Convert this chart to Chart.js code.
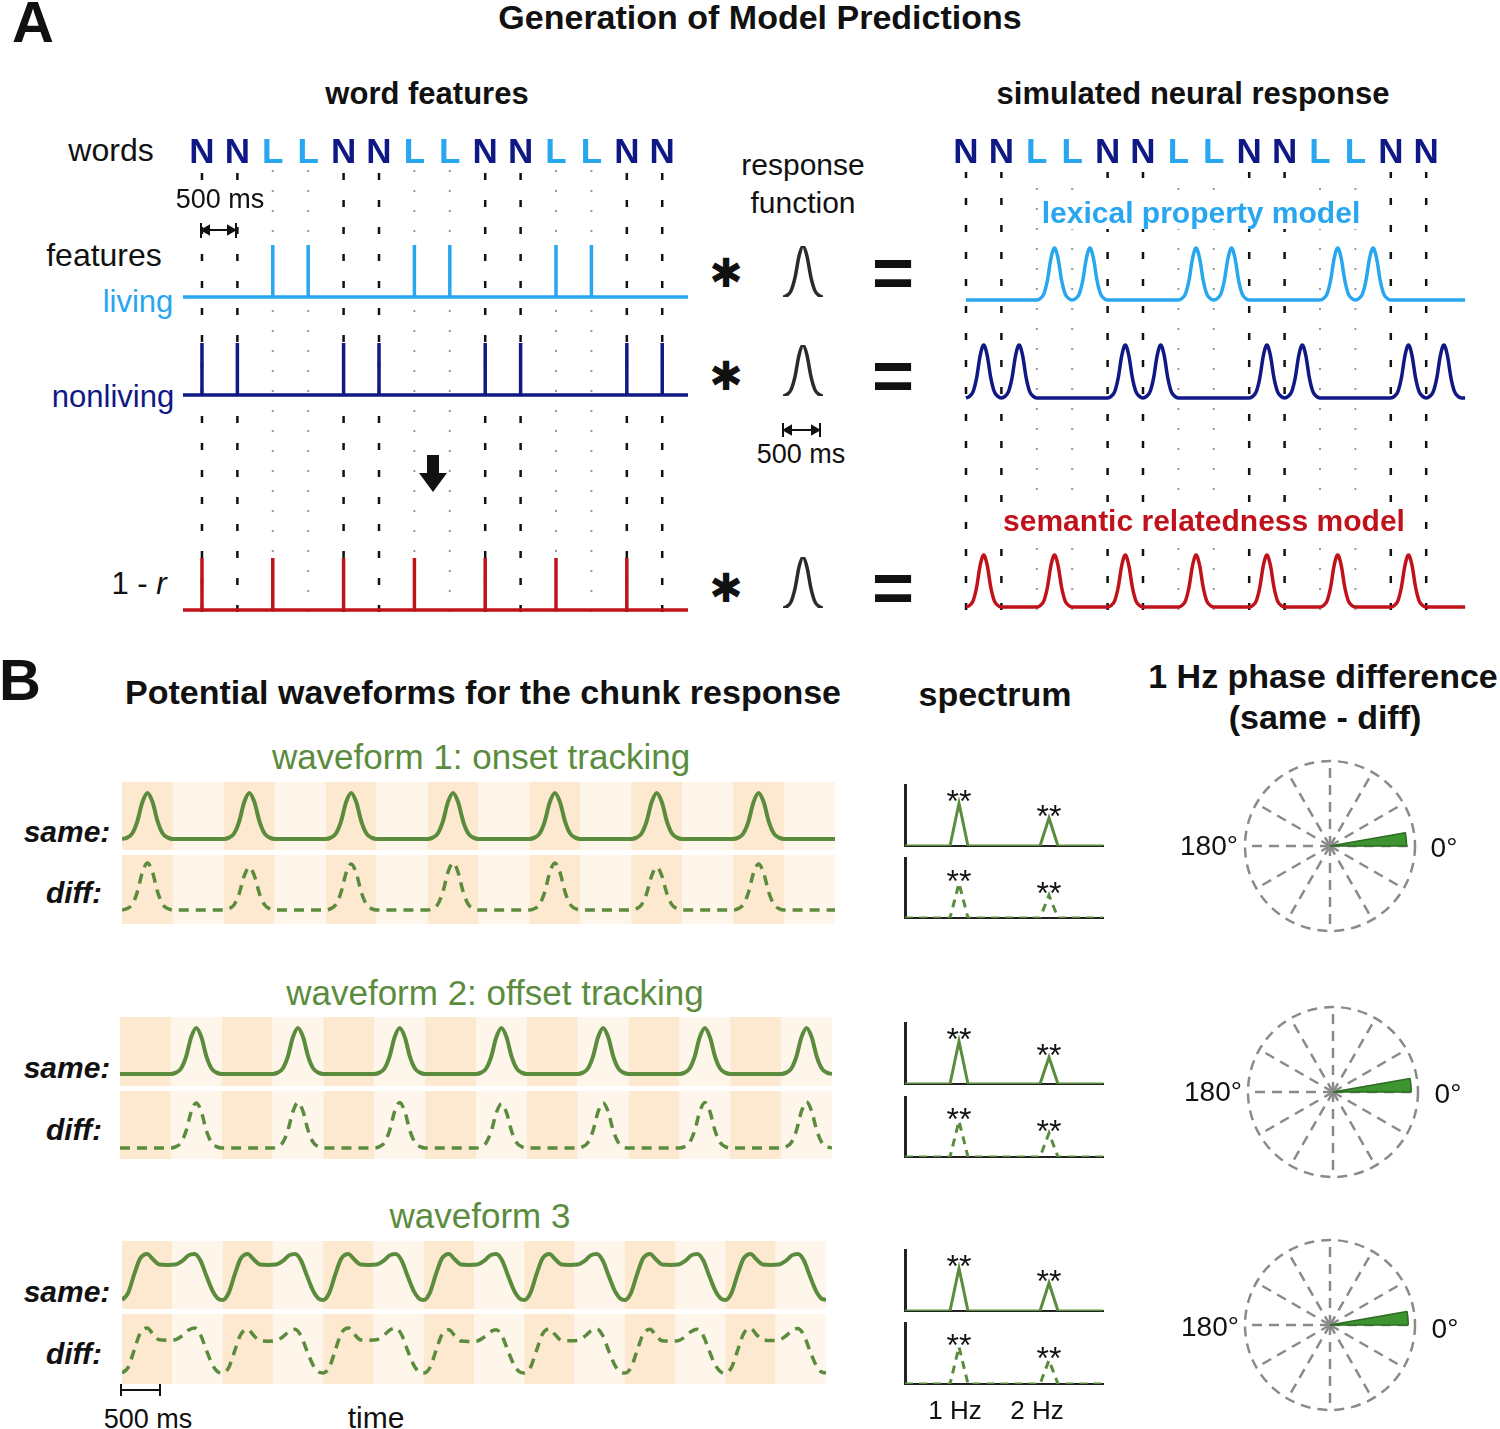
<!DOCTYPE html>
<html>
<head>
<meta charset="utf-8">
<script src="https://cdn.jsdelivr.net/npm/chart.js@4.4.1/dist/chart.umd.min.js"></script>
<style>
  html, body { margin: 0; padding: 0; background: #fff; }
  #fig { position: relative; width: 1500px; height: 1429px; overflow: hidden;
         font-family: "Liberation Sans", Arial, sans-serif; color: #111; }
  #fig canvas { position: absolute; }
  .t { position: absolute; transform: translate(-50%, -50%); white-space: nowrap; line-height: 1; }
  svg { position: absolute; left: 0; top: 0; }
</style>
</head>
<body>
<div id="fig"></div>
<script>
// ---------- data ----------
// panel A: word sequence, one word every 500 ms
const words = ['N','N','L','L','N','N','L','L','N','N','L','L','N','N'];
const wordOnsets = [0, 0.5, 1, 1.5, 2, 2.5, 3, 3.5, 4, 4.5, 5, 5.5, 6, 6.5];
// 1 - r between the words of a chunk (one spike per chunk onset)
const chunkOnsets = [0, 1, 2, 3, 4, 5, 6];
const relatedness = [1, 1, 1, 1, 1, 1, 1];

// response function (lag in s, amplitude)
const kernelLag = [0, 0.05, 0.1, 0.15, 0.2, 0.25, 0.3, 0.35, 0.4, 0.45, 0.5];
const kernelAmp = [0, 0.03, 0.12, 0.38, 0.8, 1, 0.8, 0.38, 0.12, 0.03, 0];

// panel B: position of each 500 ms slot inside its 2-word chunk
const chunkPos = [1, 2, 1, 2, 1, 2, 1, 2, 1, 2, 1, 2, 1, 2];
const slotDur = 0.5;

// waveform 1 (onset tracking)
const w1Onsets = [0, 1, 2, 3, 4, 5, 6];
const w1SameAmp = [1, 1, 1, 1, 1, 1, 1];
const w1DiffAmp = [1.0, 0.91, 0.98, 1.0, 1.0, 0.91, 0.98];
// waveform 2 (offset tracking)
const w2Onsets = [0.5, 1.5, 2.5, 3.5, 4.5, 5.5, 6.5];
const w2SameAmp = [1, 1, 1, 1, 1, 1, 1];
const w2DiffAmp = [0.98, 0.99, 0.99, 0.96, 0.98, 0.99, 1.0];
// waveform 3, one 1 s cycle
const w3CycleT = [0, 0.06, 0.12, 0.18, 0.25, 0.31, 0.37, 0.45, 0.53, 0.6, 0.66, 0.72, 0.78, 0.84, 0.9, 0.95, 1.0];
const w3SameCycle = [0, 0.15, 0.55, 0.9, 1, 0.88, 0.77, 0.76, 0.77, 0.85, 0.97, 1, 0.86, 0.52, 0.2, 0.04, 0];
const w3DiffCycle = [0, 0.12, 0.5, 0.88, 1, 0.86, 0.74, 0.73, 0.74, 0.83, 0.95, 1, 0.85, 0.5, 0.18, 0.03, 0];
const w3DiffScale = [1.0, 0.97, 1.0, 0.96, 0.98, 0.97, 0.99];

// spectra (frequency bins in Hz)
const specFreq = [0.4, 0.5, 0.6, 0.7, 0.8, 0.9, 1.0, 1.1, 1.2, 1.3, 1.4, 1.5, 1.6, 1.7, 1.8, 1.9, 2.0, 2.1, 2.2, 2.3, 2.4, 2.5, 2.6];
const spec1Same = [0,0,0,0,0,0,0.70,0,0,0,0,0,0,0,0,0,0.46,0,0,0,0,0,0];
const spec1Diff = [0,0,0,0,0,0,0.58,0,0,0,0,0,0,0,0,0,0.38,0,0,0,0,0,0];
const spec2Same = [0,0,0,0,0,0,0.70,0,0,0,0,0,0,0,0,0,0.44,0,0,0,0,0,0];
const spec2Diff = [0,0,0,0,0,0,0.60,0,0,0,0,0,0,0,0,0,0.40,0,0,0,0,0,0];
const spec3Same = [0,0,0,0,0,0,0.70,0,0,0,0,0,0,0,0,0,0.46,0,0,0,0,0,0];
const spec3Diff = [0,0,0,0,0,0,0.61,0,0,0,0,0,0,0,0,0,0.39,0,0,0,0,0,0];
const specStars = [1.0, 2.0];

// 1 Hz phase difference (same - diff): angle in degrees, resultant length
const phaseDeg = [5, 5, 5];
const phaseLen = [0.9, 0.92, 0.92];

// ---------- style ----------
const NAVY = '#0f1884';
const LIGHT = '#28a6ef';
const RED = '#c0121b';
const GREEN = '#5b8c3d';
const GRID = '#8a8a8a';
const FONT = '"Liberation Sans", Arial, sans-serif';

Chart.defaults.animation = false;
Chart.defaults.responsive = false;
Chart.defaults.devicePixelRatio = 1;
Chart.defaults.plugins.legend.display = false;
Chart.defaults.plugins.tooltip.enabled = false;
Chart.defaults.elements.point.radius = 0;

const fig = document.getElementById('fig');

function makeCanvas(left, top, w, h) {
  const c = document.createElement('canvas');
  c.width = w;
  c.height = h;
  c.style.left = left + 'px';
  c.style.top = top + 'px';
  fig.appendChild(c);
  return c.getContext('2d');
}

function text(str, x, y, size, opts = {}) {
  const d = document.createElement('div');
  d.className = 't';
  d.innerHTML = str;
  d.style.left = x + 'px';
  d.style.top = y + 'px';
  d.style.fontSize = size + 'px';
  if (opts.bold) d.style.fontWeight = 'bold';
  if (opts.italic) d.style.fontStyle = 'italic';
  if (opts.color) d.style.color = opts.color;
  if (opts.family) d.style.fontFamily = opts.family;
  if (opts.bg) { d.style.background = '#fff'; d.style.padding = '1px 3px'; }
  fig.appendChild(d);
}

// y scale that puts value 0 at page pixel `base` and 1 at `peak`, for a chart area spanning areaTop..areaBottom
function rowScale(base, peak, areaTop, areaBottom) {
  const u = base - peak;
  return { type: 'linear', display: false, min: -(areaBottom - base) / u, max: (base - areaTop) / u };
}

// spike train: vertical stick of given height at each time
function spikeTrace(times, heights, t0, t1) {
  const pts = [{ x: t0, y: 0 }];
  times.forEach((t, i) => pts.push({ x: t, y: 0 }, { x: t, y: heights[i] }, { x: t, y: 0 }));
  pts.push({ x: t1, y: 0 });
  return pts;
}

// place the response function at each onset
function pushPoint(pts, x, y) {
  const last = pts[pts.length - 1];
  if (last && Math.abs(last.x - x) < 1e-9) { last.y = Math.max(last.y, y); return; }
  pts.push({ x, y });
}
function responseTrace(onsets, amps, t0, t1) {
  const pts = [];
  pushPoint(pts, t0, 0);
  onsets.forEach((t, i) => kernelLag.forEach((l, j) => pushPoint(pts, t + l, amps[i] * kernelAmp[j])));
  pushPoint(pts, t1, 0);
  return pts;
}
function cycleTrace(cycleT, cycleAmp, scales) {
  const pts = [];
  scales.forEach((s, k) => cycleT.forEach((t, j) => pushPoint(pts, k + t, s * cycleAmp[j])));
  return pts;
}

// ---------- plugins ----------
const wordLetters = {
  id: 'wordLetters',
  afterDraw(chart, args, opts) {
    const { ctx, scales: { x } } = chart;
    ctx.save();
    ctx.font = 'bold 35px ' + FONT;
    ctx.textAlign = 'center';
    ctx.textBaseline = 'alphabetic';
    words.forEach((w, i) => {
      ctx.fillStyle = w === 'N' ? NAVY : LIGHT;
      ctx.fillText(w, x.getPixelForValue(wordOnsets[i]), opts.baseline);
    });
    ctx.restore();
  }
};

const stripes = {
  id: 'stripes',
  beforeDatasetsDraw(chart) {
    const { ctx, chartArea: { top, bottom }, scales: { x } } = chart;
    ctx.save();
    wordOnsets.forEach((t, i) => {
      const x0 = x.getPixelForValue(t);
      const x1 = x.getPixelForValue(t + slotDur);
      ctx.fillStyle = chunkPos[i] === 1 ? '#fde9d0' : '#fef5eb';
      ctx.fillRect(x0, top, x1 - x0, bottom - top);
    });
    ctx.restore();
  }
};

const stars = {
  id: 'stars',
  afterDatasetsDraw(chart, args, opts) {
    const { ctx, scales: { x, y } } = chart;
    const data = chart.data.datasets[0].data;
    ctx.save();
    ctx.font = '32px ' + FONT;
    ctx.fillStyle = '#111';
    ctx.textAlign = 'center';
    ctx.textBaseline = 'alphabetic';
    specStars.forEach(f => {
      const p = data.find(d => Math.abs(d.x - f) < 1e-6);
      ctx.fillText('**', x.getPixelForValue(f), y.getPixelForValue(p.y) + 9);
    });
    ctx.restore();
  }
};

// ---------- panel A ----------
function guideSets(axisId) {
  return words.map((w, i) => ({
    data: [{ x: wordOnsets[i], y: 0 }, { x: wordOnsets[i], y: 1 }],
    yAxisID: axisId,
    borderColor: w === 'N' ? '#111' : '#9a9a9a',
    borderWidth: w === 'N' ? 2.5 : 2,
    borderDash: w === 'N' ? [7, 20] : [2, 18],
    order: 2
  }));
}

// left: word features
const leftSpan = [-0.268, 6.864];
const livingT = wordOnsets.filter((t, i) => words[i] === 'L');
const nonlivingT = wordOnsets.filter((t, i) => words[i] === 'N');
new Chart(makeCanvas(183, 125, 505, 495), {
  type: 'line',
  data: {
    datasets: [
      { data: spikeTrace(livingT, livingT.map(() => 1), leftSpan[0], leftSpan[1]), yAxisID: 'yLiv',
        borderColor: LIGHT, borderWidth: 3.5, order: 1 },
      { data: spikeTrace(nonlivingT, nonlivingT.map(() => 1), leftSpan[0], leftSpan[1]), yAxisID: 'yNon',
        borderColor: NAVY, borderWidth: 3.5, order: 1 },
      { data: spikeTrace(chunkOnsets, relatedness, leftSpan[0], leftSpan[1]), yAxisID: 'yRel',
        borderColor: RED, borderWidth: 3.5, order: 1 },
      ...guideSets('yGuide')
    ]
  },
  options: {
    layout: { padding: { top: 40 } },
    elements: { line: { tension: 0, borderCapStyle: 'butt' } },
    scales: {
      x: { type: 'linear', display: false, min: leftSpan[0], max: leftSpan[1] },
      yLiv: rowScale(297, 245, 165, 620),
      yNon: rowScale(395, 343, 165, 620),
      yRel: rowScale(610, 558, 165, 620),
      yGuide: rowScale(612, 168, 165, 620)
    },
    plugins: { wordLetters: { baseline: 38 } }
  },
  plugins: [wordLetters]
});

// right: simulated neural response
const rightEnd = 7.05;
new Chart(makeCanvas(950, 125, 530, 495), {
  type: 'line',
  data: {
    datasets: [
      { data: responseTrace(livingT, livingT.map(() => 1), 0, rightEnd), yAxisID: 'yLex',
        borderColor: LIGHT, borderWidth: 3.5, cubicInterpolationMode: 'monotone', order: 1 },
      { data: responseTrace(nonlivingT, nonlivingT.map(() => 1), 0, rightEnd), yAxisID: 'yNon',
        borderColor: NAVY, borderWidth: 3.5, cubicInterpolationMode: 'monotone', order: 1 },
      { data: responseTrace(chunkOnsets, relatedness, 0, rightEnd), yAxisID: 'ySem',
        borderColor: RED, borderWidth: 3.5, cubicInterpolationMode: 'monotone', order: 1 },
      ...guideSets('yGuide')
    ]
  },
  options: {
    layout: { padding: { top: 40 } },
    scales: {
      x: { type: 'linear', display: false, min: -0.226, max: 7.26 },
      yLex: rowScale(300, 248, 165, 620),
      yNon: rowScale(398, 345, 165, 620),
      ySem: rowScale(607, 555, 165, 620),
      yGuide: rowScale(610, 172, 165, 620)
    },
    plugins: { wordLetters: { baseline: 38 } }
  },
  plugins: [wordLetters]
});

// response function glyphs
function makeKernel(left, top) {
  new Chart(makeCanvas(left, top, 50, 61), {
    type: 'line',
    data: { datasets: [{ data: kernelLag.map((l, i) => ({ x: l, y: kernelAmp[i] })),
      borderColor: '#2b2b2b', borderWidth: 3.5, cubicInterpolationMode: 'monotone' }] },
    options: {
      layout: { padding: 5 },
      scales: { x: { type: 'linear', display: false, min: 0, max: 0.5 },
                y: { display: false, min: 0, max: 1 } }
    }
  });
}
makeKernel(778, 241);
makeKernel(778, 340);
makeKernel(778, 552);

// ---------- panel B ----------
function makeWave(left, top, w, h, pts, yScale, dashed) {
  new Chart(makeCanvas(left, top, w, h), {
    type: 'line',
    data: { datasets: [{ data: pts, borderColor: GREEN, borderWidth: dashed ? 3.5 : 4,
      borderDash: dashed ? [10, 7] : [], cubicInterpolationMode: 'monotone' }] },
    options: {
      scales: { x: { type: 'linear', display: false, min: 0, max: 7 }, y: yScale }
    },
    plugins: [stripes]
  });
}
makeWave(122, 782, 713, 68, responseTrace(w1Onsets, w1SameAmp, 0, 7), rowScale(839, 793, 782, 850), false);
makeWave(122, 855, 713, 69, responseTrace(w1Onsets, w1DiffAmp, 0, 7), rowScale(910, 863, 855, 924), true);
makeWave(120, 1017, 712, 69, responseTrace(w2Onsets, w2SameAmp, 0, 7), rowScale(1074, 1028, 1017, 1086), false);
makeWave(120, 1091, 712, 68, responseTrace(w2Onsets, w2DiffAmp, 0, 7), rowScale(1148, 1102, 1091, 1159), true);
makeWave(122, 1241, 704, 68, cycleTrace(w3CycleT, w3SameCycle, [1, 1, 1, 1, 1, 1, 1]), rowScale(1300, 1254, 1241, 1309), false);
makeWave(122, 1314, 704, 70, cycleTrace(w3CycleT, w3DiffCycle, w3DiffScale), rowScale(1373, 1328, 1314, 1384), true);

// spectra
function makeSpectrum(areaTop, areaBottom, amps, dashed) {
  new Chart(makeCanvas(885, areaTop - 26, 232, areaBottom - areaTop + 36), {
    type: 'line',
    data: { datasets: [{ data: specFreq.map((f, i) => ({ x: f, y: amps[i] })), borderColor: GREEN,
      borderWidth: 3, borderDash: dashed ? [8, 6] : [], tension: 0 }] },
    options: {
      layout: { padding: { left: 20, top: 26, right: 14, bottom: 10 } },
      scales: {
        x: { type: 'linear', min: 0.4, max: 2.6, ticks: { display: false },
             grid: { display: false, drawTicks: false }, border: { color: '#222', width: 2 } },
        y: { min: 0, max: 1, ticks: { display: false },
             grid: { display: false, drawTicks: false }, border: { color: '#222', width: 3 } }
      }
    },
    plugins: [stars]
  });
}
makeSpectrum(785, 846, spec1Same, false);
makeSpectrum(858, 918, spec1Diff, true);
makeSpectrum(1023, 1084, spec2Same, false);
makeSpectrum(1097, 1157, spec2Diff, true);
makeSpectrum(1250, 1311, spec3Same, false);
makeSpectrum(1323, 1384, spec3Diff, true);

// polar plots of the phase difference (36 bins of 10 deg, clockwise from the top)
function makePolar(cx, cy, deg, len) {
  const bins = new Array(36).fill(0);
  bins[Math.floor((((90 - deg) % 360) + 360) % 360 / 10)] = len;
  new Chart(makeCanvas(cx - 95, cy - 95, 190, 190), {
    type: 'polarArea',
    data: { labels: bins.map((b, i) => i * 10 + '°'),
      datasets: [{ data: bins, backgroundColor: '#3f9432',
        borderColor: '#2d6a22', borderWidth: c => (c.raw > 0 ? 1.5 : 0) }] },
    options: {
      layout: { padding: 10 },
      scales: {
        r: {
          min: 0, max: 1,
          ticks: { display: false, stepSize: 1 },
          pointLabels: { display: false },
          grid: { circular: true, color: GRID, lineWidth: 2.5 },
          border: { dash: [10, 7] },
          angleLines: { display: true, lineWidth: 2.5, borderDash: [10, 7],
            color: c => (c.index % 3 === 0 ? GRID : 'rgba(0,0,0,0)') }
        }
      }
    }
  });
}
makePolar(1330, 846, phaseDeg[0], phaseLen[0]);
makePolar(1333, 1092, phaseDeg[1], phaseLen[1]);
makePolar(1330, 1325, phaseDeg[2], phaseLen[2]);

// ---------- text ----------
text('A', 33, 22, 58, { bold: true });
text('Generation of Model Predictions', 760, 17, 34, { bold: true });
text('word features', 427, 93, 31, { bold: true });
text('simulated neural response', 1193, 93, 31, { bold: true });
text('words', 111, 150, 32);
text('features', 104, 255, 32);
text('living', 138, 301, 31, { color: LIGHT });
text('nonliving', 113, 396, 31, { color: NAVY });
text('1 - <i>r</i>', 139, 583, 31);
text('500 ms', 220, 199, 27, { bg: true });
text('response', 803, 165, 30);
text('function', 803, 203, 30);
text('500 ms', 801, 454, 27);
['273', '376', '588'].forEach(y => {
  text('✱', 726, +y, 40, { family: '"DejaVu Sans", sans-serif' });
});
['272', '375', '587'].forEach(y => {
  text('=', 893, +y, 72, { bold: true });
});
text('lexical property model', 1201, 213, 30, { bold: true, color: LIGHT, bg: true });
text('semantic relatedness model', 1204, 521, 30, { bold: true, color: RED, bg: true });

text('B', 20, 680, 58, { bold: true });
text('Potential waveforms for the chunk response', 483, 692, 34, { bold: true });
text('spectrum', 995, 694, 34, { bold: true });
text('1 Hz phase difference', 1323, 676, 34, { bold: true });
text('(same - diff)', 1325, 717, 34, { bold: true });
text('waveform 1: onset tracking', 481, 756, 35, { color: GREEN });
text('waveform 2: offset tracking', 495, 992, 35, { color: GREEN });
text('waveform 3', 480, 1215, 35, { color: GREEN });
[[832, 893], [1068, 1130], [1292, 1354]].forEach(([ys, yd]) => {
  text('same:', 67, ys, 30, { bold: true, italic: true });
  text('diff:', 74, yd, 30, { bold: true, italic: true });
});
[[846, 1209, 1444], [1092, 1213, 1448], [1327, 1210, 1445]].forEach(([y, xl, xr]) => {
  text('180°', xl, y, 28);
  text('0°', xr, y + 2, 28);
});
text('1 Hz', 955, 1410, 26);
text('2 Hz', 1037, 1410, 26);
text('500 ms', 148, 1419, 27);
text('time', 376, 1418, 30);

// ---------- arrows and scale bars ----------
const svgNS = 'http://www.w3.org/2000/svg';
const svg = document.createElementNS(svgNS, 'svg');
svg.setAttribute('width', 1500);
svg.setAttribute('height', 1429);
svg.innerHTML = `
  <g stroke="#111" stroke-width="2" fill="#111">
    <line x1="201" y1="223" x2="201" y2="238"/><line x1="236" y1="223" x2="236" y2="238"/>
    <line x1="206" y1="230" x2="231" y2="230"/>
    <polygon points="202,230 209,226 209,234"/><polygon points="235,230 228,226 228,234"/>
    <line x1="783" y1="423" x2="783" y2="437"/><line x1="820" y1="423" x2="820" y2="437"/>
    <line x1="788" y1="430" x2="815" y2="430"/>
    <polygon points="784,430 791,426 791,434"/><polygon points="819,430 812,426 812,434"/>
    <line x1="121" y1="1384" x2="121" y2="1396"/><line x1="160" y1="1384" x2="160" y2="1396"/>
    <line x1="121" y1="1390" x2="160" y2="1390"/>
  </g>
  <g fill="#111">
    <rect x="427" y="455" width="12" height="19"/>
    <polygon points="419,473 447,473 433,492"/>
  </g>`;
fig.appendChild(svg);
</script>
</body>
</html>
